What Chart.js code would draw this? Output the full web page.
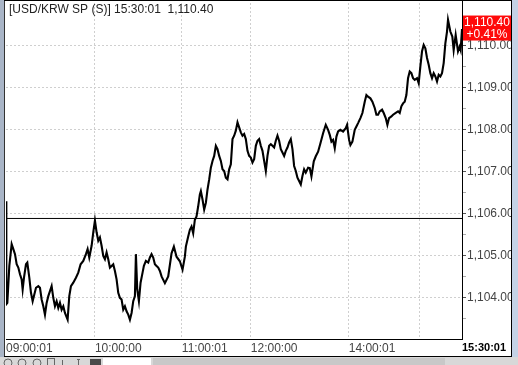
<!DOCTYPE html>
<html>
<head>
<meta charset="utf-8">
<style>
  html, body { margin: 0; padding: 0; background: #fff; }
  #wrap { width: 518px; height: 365px; }
</style>
<script src="https://cdn.jsdelivr.net/npm/chart.js@4.4.1/dist/chart.umd.min.js"></script>
</head>
<body>
<div id="wrap"><canvas id="chart" width="518" height="365"></canvas></div>
<script>
/* ---------- data (tick sequence number / price) ---------- */
const tickNo = [
  0, 1, 4, 10, 17, 22, 27, 32, 37, 42,
  47, 50, 54, 60, 64, 70, 75, 80, 85, 90,
  97, 102, 107, 112, 117, 122, 127, 132, 137, 142,
  147, 152, 157, 162, 167, 172, 177, 185, 190, 195,
  202, 210, 217, 224, 232, 240, 245, 250, 257, 262,
  267, 272, 277, 282, 287, 292, 297, 302, 307, 312,
  317, 322, 327, 332, 337, 342, 347, 352, 357, 362,
  367, 372, 377, 382, 387, 390, 394, 399, 404, 410,
  414, 420, 427, 432, 437, 442, 447, 452, 457, 462,
  467, 477, 487, 497, 504, 512, 522, 530, 537, 540,
  547, 552, 557, 562, 567, 572, 577, 582, 585, 590,
  595, 600, 605, 610, 615, 620, 625, 630, 635, 640,
  645, 650, 655, 660, 665, 670, 675, 680, 685, 690,
  695, 700, 705, 710, 715, 720, 725, 730, 735, 740,
  745, 750, 755, 760, 765, 770, 775, 780, 785, 790,
  795, 800, 805, 810, 815, 820, 825, 830, 835, 840,
  845, 850, 855, 860, 865, 870, 875, 880, 885, 890,
  895, 900, 907, 912, 917, 924, 930, 937, 944, 952,
  960, 967, 972, 977, 982, 987, 992, 997, 1004, 1012,
  1020, 1024, 1030, 1034, 1040, 1047, 1052, 1057, 1064, 1070,
  1077, 1082, 1087, 1094, 1100, 1107, 1112, 1117, 1122, 1129,
  1134, 1140, 1145, 1150, 1157, 1162, 1169, 1177, 1182, 1187,
  1192, 1197, 1202, 1207, 1212, 1217, 1222, 1227, 1234, 1239,
  1244, 1249, 1254, 1259, 1264, 1269, 1274, 1279, 1284, 1289,
  1294, 1299, 1304, 1309, 1314, 1319, 1324, 1327, 1334, 1340,
  1344, 1350, 1357, 1362, 1365, 1369
];
const price = [
  1106.30, 1103.85, 1103.88, 1104.76, 1105.28, 1105.16, 1105.04, 1104.80, 1104.72, 1104.56,
  1104.44, 1104.20, 1104.48, 1104.80, 1104.84, 1104.48, 1104.12, 1103.92, 1104.08, 1104.24,
  1104.28, 1104.24, 1103.96, 1103.80, 1103.60, 1103.88, 1104.04, 1104.16, 1104.28, 1104.00,
  1103.80, 1103.92, 1103.76, 1103.88, 1103.72, 1103.80, 1103.64, 1103.48, 1104.04, 1104.28,
  1104.36, 1104.48, 1104.60, 1104.80, 1104.88, 1105.04, 1105.16, 1104.96, 1105.24, 1105.56,
  1105.84, 1105.56, 1105.36, 1105.44, 1105.24, 1105.00, 1104.92, 1105.08, 1104.92, 1104.72,
  1104.76, 1104.80, 1104.64, 1104.44, 1104.12, 1104.00, 1103.96, 1103.72, 1103.80, 1103.68,
  1103.60, 1103.48, 1103.64, 1103.92, 1104.04, 1105.04, 1104.20, 1103.92, 1104.36, 1104.60,
  1104.76, 1104.88, 1104.84, 1104.96, 1105.04, 1104.96, 1104.80, 1104.76, 1104.72, 1104.64,
  1104.51, 1104.35, 1104.51, 1105.06, 1105.22, 1104.98, 1104.87, 1104.67, 1104.98, 1105.22,
  1105.46, 1105.62, 1105.70, 1105.54, 1105.86, 1105.94, 1106.18, 1106.46, 1106.54, 1106.34,
  1106.10, 1106.26, 1106.58, 1106.82, 1107.10, 1107.26, 1107.38, 1107.62, 1107.54, 1107.38,
  1107.26, 1107.06, 1107.02, 1106.86, 1106.82, 1107.06, 1107.18, 1107.78, 1107.86, 1107.98,
  1108.18, 1108.06, 1107.94, 1107.86, 1107.90, 1107.78, 1107.50, 1107.38, 1107.34, 1107.22,
  1107.30, 1107.62, 1107.74, 1107.78, 1107.62, 1107.50, 1107.26, 1107.02, 1107.38, 1107.62,
  1107.66, 1107.62, 1107.58, 1107.74, 1107.86, 1107.74, 1107.54, 1107.46, 1107.38, 1107.50,
  1107.58, 1107.70, 1107.78, 1107.54, 1107.14, 1107.02, 1106.86, 1106.78, 1106.70, 1106.90,
  1107.06, 1106.98, 1107.10, 1107.09, 1106.89, 1107.25, 1107.37, 1107.48, 1107.68, 1107.92,
  1108.12, 1108.00, 1107.88, 1107.72, 1107.76, 1107.56, 1107.84, 1107.96, 1108.00, 1107.96,
  1108.04, 1108.12, 1107.76, 1107.64, 1107.72, 1108.00, 1108.08, 1108.16, 1108.28, 1108.40,
  1108.67, 1108.83, 1108.79, 1108.75, 1108.67, 1108.52, 1108.36, 1108.36, 1108.44, 1108.48,
  1108.40, 1108.28, 1108.12, 1108.28, 1108.32, 1108.36, 1108.40, 1108.44, 1108.40, 1108.56,
  1108.63, 1108.67, 1108.83, 1109.23, 1109.39, 1109.35, 1109.23, 1109.19, 1109.23, 1109.11,
  1109.51, 1109.87, 1110.02, 1109.94, 1109.71, 1109.55, 1109.35, 1109.23, 1109.35, 1109.27,
  1109.15, 1109.31, 1109.27, 1109.35, 1109.59, 1110.06, 1110.34, 1110.62, 1110.34, 1110.22,
  1109.90, 1110.26, 1109.87, 1109.98, 1109.90, 1110.40
];

// time axis
const timeTicks  = [0, 267, 528, 735, 1029, 1240, 1369];
const timeLabels = ["09:00:01", "10:00:00", "11:00:01", "12:00:00", "14:00:01", "", "15:30:01"];

// price axis
const priceTicks = [1103.5, 1104, 1104.5, 1105, 1105.5, 1106, 1106.5, 1107, 1107.5,
                    1108, 1108.5, 1109, 1109.5, 1110, 1110.5];
const priceMin = 1103.02, priceMax = 1111.02;

const prevClose = 1105.89;
const lastPrice = 1110.40;
const lastTime  = "15:30:01";
const changePct = "+0.41%";
const symbol    = "[USD/KRW SP (S)]";

/* ---------- helpers ---------- */
const FONT = '"Liberation Sans", Arial, sans-serif';
const fmt = v => v.toLocaleString('en-US', { minimumFractionDigits: 2, maximumFractionDigits: 2 });
const lastTick = timeTicks[timeTicks.length - 1];

/* ---------- frame / decorations ---------- */
const framePlugin = {
  id: 'frame',
  beforeDraw(chart) {
    const ctx = chart.ctx;
    ctx.save();
    ctx.fillStyle = '#fff';
    ctx.fillRect(0, 0, chart.width, chart.height);
    ctx.restore();
  },
  afterDraw(chart) {
    const ctx = chart.ctx;
    const yS = chart.scales.y;
    ctx.save();

    // title line
    ctx.font = '12px ' + FONT;
    ctx.fillStyle = '#222';
    ctx.textBaseline = 'middle';
    ctx.textAlign = 'left';
    ctx.fillText(symbol + ' ' + lastTime + '  ' + fmt(lastPrice), 9, 10);

    // last price badge
    const py = yS.getPixelForValue(lastPrice);
    ctx.fillStyle = '#ff0a0a';
    ctx.fillRect(463, py - 13.5, 48, 25);
    ctx.fillStyle = '#fff';
    ctx.textAlign = 'center';
    ctx.fillText(fmt(lastPrice), 487, py - 6);
    ctx.fillText(changePct, 487, py + 6);

    // axis line up to the top edge
    ctx.fillStyle = '#000';
    ctx.fillRect(462, 0, 1, 4);

    // window edges
    ctx.fillStyle = '#c4d2e6';
    ctx.fillRect(512, 0, 6, 365);
    ctx.fillStyle = '#a9b5c7';
    ctx.fillRect(0, 0, 4, 365);
    ctx.fillStyle = '#000';
    ctx.fillRect(511, 0, 1, 357);
    ctx.fillStyle = '#333';
    ctx.fillRect(4, 0, 1, 357);
    ctx.fillStyle = '#000';
    ctx.fillRect(4, 0, 508, 1);
    ctx.fillRect(4, 356, 508, 1);

    // toolbar strip
    ctx.fillStyle = '#d8d8d8';
    ctx.fillRect(0, 357, 518, 8);
    ctx.strokeStyle = '#666';
    ctx.lineWidth = 1;
    [8, 22, 37].forEach(cx => {
      ctx.beginPath();
      ctx.arc(cx, 363, 4, 0, Math.PI * 2);
      ctx.stroke();
    });
    ctx.strokeRect(47.5, 358.5, 7, 8);
    ctx.fillStyle = '#666';
    ctx.fillRect(62, 360, 1, 5);
    ctx.fillRect(77, 359, 3, 1);
    ctx.fillRect(78, 359, 1, 6);
    ctx.fillStyle = '#4a4a4a';
    ctx.fillRect(90, 359, 11, 6);
    ctx.fillStyle = '#fff';
    ctx.fillRect(103, 358, 48, 7);
    ctx.fillStyle = '#c8c8c8';
    ctx.fillRect(153, 358, 292, 7);

    ctx.restore();
  }
};

/* ---------- chart ---------- */
const points = tickNo.map((t, i) => ({ x: t, y: price[i] }));
const baseLine = [
  { x: timeTicks[0], y: prevClose },
  { x: lastTick, y: prevClose }
];

new Chart(document.getElementById('chart'), {
  type: 'line',
  data: {
    datasets: [
      {
        data: baseLine,
        borderColor: '#000',
        borderWidth: 1,
        pointRadius: 0,
        order: 2
      },
      {
        data: points,
        borderColor: '#000',
        borderWidth: 2.1,
        pointRadius: 0,
        tension: 0,
        order: 1
      }
    ]
  },
  options: {
    responsive: false,
    animation: false,
    devicePixelRatio: 1,
    layout: { padding: { left: 6, top: 3, right: 0, bottom: 0 } },
    plugins: {
      legend: { display: false },
      tooltip: { enabled: false }
    },
    scales: {
      x: {
        type: 'linear',
        position: 'bottom',
        bounds: 'data',
        min: timeTicks[0],
        max: lastTick,
        afterBuildTicks: s => { s.ticks = timeTicks.map(v => ({ value: v })); },
        afterFit: s => { s.height = 26; s.paddingLeft = 0; s.paddingRight = 0; },
        ticks: {
          autoSkip: false,
          maxRotation: 0,
          align: 'start',
          padding: 2,
          color: c => (c.tick && c.tick.value === lastTick) ? '#000' : '#444',
          font: c => ({
            family: FONT,
            size: (c.tick && c.tick.value === lastTick) ? 11 : 12,
            weight: (c.tick && c.tick.value === lastTick) ? 'bold' : 'normal'
          }),
          callback: (v, i) => timeLabels[i]
        },
        grid: {
          drawTicks: false,
          color: c => (c.tick && (c.tick.value === timeTicks[0] || c.tick.value === lastTick)) ? 'rgba(0,0,0,0)' : '#cfcfcf'
        },
        border: { color: '#000', width: 1, dash: [2, 2] }
      },
      y: {
        type: 'linear',
        position: 'right',
        bounds: 'data',
        min: priceMin,
        max: priceMax,
        afterBuildTicks: s => { s.ticks = priceTicks.map(v => ({ value: v })); },
        afterFit: s => { s.width = 56; s.paddingTop = 0; s.paddingBottom = 0; },
        ticks: {
          padding: 1,
          color: '#444',
          font: { family: FONT, size: 12 },
          callback: v => Number.isInteger(v) ? fmt(v) : ''
        },
        grid: {
          tickLength: 4,
          tickBorderDash: [],
          color: c => (c.tick && Number.isInteger(c.tick.value)) ? '#cfcfcf' : 'rgba(0,0,0,0)',
          tickColor: c => (c.tick && Number.isInteger(c.tick.value)) ? '#555' : '#aaa'
        },
        border: { color: '#000', width: 1, dash: [2, 2] }
      }
    }
  },
  plugins: [framePlugin]
});
</script>
</body>
</html>
